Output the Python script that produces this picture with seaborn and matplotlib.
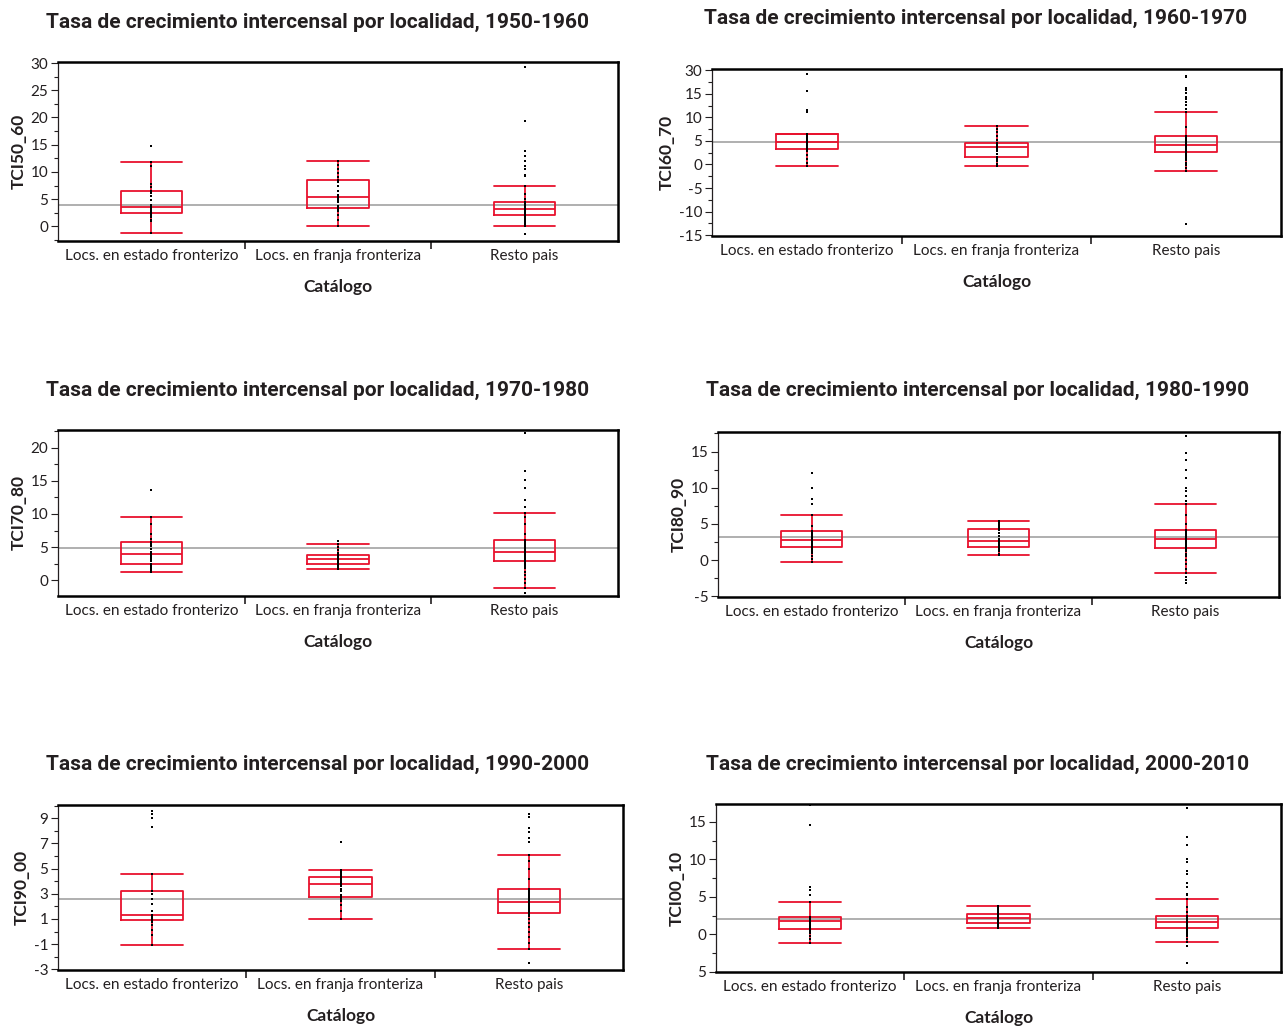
import matplotlib
matplotlib.use("Agg")
import matplotlib.pyplot as plt
import seaborn as sns
import pandas as pd
from matplotlib.ticker import FixedLocator, MultipleLocator

# ---- data -----------------------------------------------------------------
categories = ['Locs. en estado fronterizo', 'Locs. en franja fronteriza', 'Resto pais']
periods = ['1950-1960', '1960-1970', '1970-1980', '1980-1990', '1990-2000', '2000-2010']
variables = ['TCI50_60', 'TCI60_70', 'TCI70_80', 'TCI80_90', 'TCI90_00', 'TCI00_10']
grand_means = [4.0, 4.85, 4.8, 3.26, 2.58, 2.08]

tci50_60_estado = [-1.3, 0.9, 1.2, 1.8, 2.1, 2.4, 2.6, 2.9, 3.1, 3.3, 3.5, 4.0, 4.8, 5.6,
                   6.1, 6.5, 7.2, 7.8, 11.0, 11.8, 14.8]
tci50_60_franja = [0.0, 1.2, 2.0, 2.8, 3.0, 3.3, 3.8, 4.5, 4.9, 5.1, 5.3, 5.8, 6.5, 7.4,
                   8.2, 8.5, 9.0, 9.8, 10.5, 11.2, 12.0]
tci50_60_resto = [-1.4, 0.0, 0.25, 0.5, 0.75, 1.0, 1.25, 1.45, 1.65, 1.8, 1.95, 2.05,
                  2.15, 2.25, 2.35, 2.45, 2.55, 2.65, 2.7, 2.8, 2.85, 2.95, 3.0, 3.05,
                  3.1, 3.2, 3.3, 3.4, 3.5, 3.6, 3.7, 3.8, 3.95, 4.1, 4.2, 4.3,
                  4.4, 5.0, 6.0, 7.45, 9.2, 9.5, 10.5, 11.0, 12.0, 13.0, 13.8, 19.4, 29.2]

tci60_70_estado = [-0.3, 0.4, 1.2, 2.0, 2.8, 3.4, 3.7, 4.0, 4.3, 4.6, 4.8, 5.0, 5.4, 5.8,
                   6.1, 6.4, 6.5, 11.1, 11.6, 15.6, 19.2]
tci60_70_franja = [-0.4, 0.2, 0.8, 1.1, 1.4, 1.6, 2.2, 2.8, 3.2, 3.5, 3.8, 4.0, 4.2, 4.4,
                   4.5, 4.6, 5.2, 6.0, 7.0, 7.6, 8.2]
tci60_70_resto = [-12.6, -1.4, -0.8, -0.2, 0.4, 0.9, 1.3, 1.7, 2.0, 2.2, 2.4, 2.55,
                  2.7, 2.85, 3.0, 3.15, 3.3, 3.45, 3.6, 3.7, 3.8, 3.9, 4.0, 4.1,
                  4.2, 4.35, 4.5, 4.65, 4.8, 4.95, 5.1, 5.3, 5.5, 5.7, 5.85, 6.0,
                  6.1, 8.0, 11.1, 11.9, 12.6, 13.3, 14.0, 14.4, 15.1, 15.8, 16.3, 18.5, 18.8]

tci70_80_estado = [1.3, 1.6, 1.9, 2.1, 2.3, 2.5, 2.9, 3.2, 3.5, 3.8, 4.0, 4.3, 4.7, 5.1,
                   5.4, 5.7, 6.2, 7.0, 8.5, 9.5, 13.7]
tci70_80_franja = [1.7, 1.9, 2.1, 2.3, 2.4, 2.5, 2.7, 2.8, 3.0, 3.1, 3.2, 3.3, 3.5, 3.6,
                   3.7, 3.8, 4.1, 4.6, 5.0, 5.5, 5.85]
tci70_80_resto = [-1.9, -1.2, -0.5, 0.2, 0.8, 1.3, 1.8, 2.2, 2.5, 2.7,
                  2.9, 3.05, 3.2, 3.35, 3.5, 3.65, 3.8, 3.9, 4.0, 4.1,
                  4.2, 4.4, 4.6, 4.8, 5.0, 5.2, 5.4, 5.6, 5.75, 5.9,
                  6.0, 7.0, 8.5, 9.5, 10.2, 11.0, 12.1, 13.9, 15.1, 16.5, 22.2]

tci80_90_estado = [-0.3, 0.2, 0.6, 1.0, 1.3, 1.6, 1.85, 2.0, 2.2, 2.35, 2.5, 2.65, 2.75,
                   2.9, 3.1, 3.3, 3.5, 3.8, 4.0, 4.7, 6.3, 7.7, 8.5, 10.0, 12.1]
tci80_90_franja = [0.7, 0.9, 1.2, 1.4, 1.6, 1.8, 1.95, 2.1, 2.3, 2.45, 2.6, 2.9, 3.3, 3.7,
                   4.1, 4.35, 4.6, 4.9, 5.1, 5.3, 5.45]
tci80_90_resto = [-3.1, -2.8, -2.4, -1.85, -1.2, -0.6, 0.0, 0.5, 0.9, 1.2, 1.4, 1.55,
                  1.65, 1.75, 1.9, 2.0, 2.1, 2.2, 2.3, 2.4, 2.5, 2.6, 2.7, 2.8,
                  2.85, 2.95, 3.05, 3.15, 3.25, 3.35, 3.45, 3.6, 3.7, 3.85, 3.95, 4.05,
                  4.15, 5.0, 6.2, 7.8, 8.1, 8.8, 9.5, 10.0, 11.3, 12.5, 13.9, 14.8, 17.2]

tci90_00_estado = [-1.1, -0.3, 0.1, 0.5, 0.75, 0.92, 1.0, 1.1, 1.2, 1.25, 1.31, 1.6, 2.2,
                   2.6, 3.0, 3.26, 4.55, 8.3, 9.0, 9.3, 9.55]
tci90_00_franja = [1.0, 1.6, 2.1, 2.4, 2.6, 2.71, 2.9, 3.2, 3.4, 3.6, 3.75, 3.85, 4.0,
                   4.1, 4.25, 4.35, 4.5, 4.65, 4.75, 4.87, 7.08]
tci90_00_resto = [-2.5, -1.39, -0.9, -0.4, 0.0, 0.4, 0.7, 1.0, 1.2, 1.35,
                  1.44, 1.55, 1.65, 1.75, 1.85, 1.95, 2.05, 2.15, 2.22, 2.28,
                  2.32, 2.45, 2.6, 2.75, 2.9, 3.0, 3.1, 3.2, 3.3, 3.38,
                  3.42, 4.2, 5.0, 5.6, 6.1, 7.15, 7.4, 7.9, 8.25, 9.1, 9.3]

tci00_10_estado = [-1.15, -0.6, -0.2, 0.1, 0.3, 0.5, 0.66, 0.8, 1.0, 1.2, 1.4, 1.6, 1.77,
                   1.85, 1.95, 2.05, 2.15, 2.2, 2.26, 4.35, 5.3, 5.9, 6.3, 14.6, 17.2]
tci00_10_franja = [0.84, 1.0, 1.15, 1.3, 1.45, 1.55, 1.7, 1.8, 1.9, 2.0, 2.12, 2.2, 2.3,
                   2.4, 2.55, 2.65, 2.85, 3.1, 3.35, 3.55, 3.76]
tci00_10_resto = [-3.8, -1.6, -1.0, -0.6, -0.3, 0.0, 0.2, 0.35, 0.5, 0.6, 0.68, 0.75, 0.8, 0.85,
                  0.88, 0.95, 1.0, 1.06, 1.12, 1.18, 1.24, 1.3, 1.36, 1.42, 1.48, 1.53, 1.57, 1.61,
                  1.64, 1.7, 1.76, 1.82, 1.88, 1.94, 2.0, 2.06, 2.12, 2.18, 2.24, 2.3, 2.36, 2.4,
                  2.43, 3.0, 3.6, 4.65, 5.2, 5.4, 6.3, 6.9, 8.1, 8.5, 9.6, 10.1, 11.9, 13.0, 16.9]

groups = [
    (tci50_60_estado, tci50_60_franja, tci50_60_resto),
    (tci60_70_estado, tci60_70_franja, tci60_70_resto),
    (tci70_80_estado, tci70_80_franja, tci70_80_resto),
    (tci80_90_estado, tci80_90_franja, tci80_90_resto),
    (tci90_00_estado, tci90_00_franja, tci90_00_resto),
    (tci00_10_estado, tci00_10_franja, tci00_10_resto),
]

y_ticks = [
    [0, 5, 10, 15, 20, 25, 30],
    [-15, -10, -5, 0, 5, 10, 15, 20],
    [0, 5, 10, 15, 20],
    [-5, 0, 5, 10, 15],
    [-3, -1, 1, 3, 5, 7, 9],
    [-5, 0, 5, 10, 15],
]
y_tick_labels = [
    ['0', '5', '10', '15', '20', '25', '30'],
    ['-15', '-10', '-5', '0', '5', '10', '15', '30'],
    ['0', '5', '10', '15', '20'],
    ['-5', '0', '5', '10', '15'],
    ['-3', '-1', '1', '3', '5', '7', '9'],
    ['5', '0', '5', '10', '15'],
]
y_minor = [2.5, 2.5, 2.5, 2.5, 1, 2.5]
y_limits = [(-2.7, 30.2), (-15.2, 20.3), (-2.4, 22.7), (-5.1, 17.7), (-3.05, 10.05), (-5.05, 17.4)]

# ---- layout (pixels of the 1284x1026 canvas) -----------------------------
W, H = 1284, 1026
panel_boxes = [  # left, top, right, bottom of each plot frame
    (58, 62, 618, 241), (712, 69, 1281, 236),
    (58, 430, 618, 596), (718, 432, 1279, 597),
    (58, 805, 623, 970), (716, 804, 1281, 972),
]
title_pos = [(318, 22), (976, 18), (318, 390), (978, 390), (318, 764), (978, 764)]

RED = '#e8112d'
TEXT = '#231f20'
TITLE_FONT = ['Roboto', 'DejaVu Sans']
BODY_FONT = ['Lato', 'DejaVu Sans']

sns.set_theme(style='white')
plt.rcParams['font.family'] = BODY_FONT

fig = plt.figure(figsize=(W / 100, H / 100), dpi=100)
fig.patch.set_facecolor('white')

for i in range(6):
    l, t, r, b = panel_boxes[i]
    ax = fig.add_axes([l / W, 1 - b / H, (r - l) / W, (b - t) / H])

    var = variables[i]
    cat_col, val_col = [], []
    for cat, vals in zip(categories, groups[i]):
        cat_col += [cat] * len(vals)
        val_col += vals
    df = pd.DataFrame({'Catálogo': cat_col, var: val_col})

    ax.axhline(grand_means[i], color='#9a9a9a', linewidth=1.1, zorder=1)

    sns.boxplot(data=df, x='Catálogo', y=var, order=categories,
                fill=False, color=RED, width=0.33, showfliers=False,
                linewidth=1.3, capwidths=0.33, ax=ax, zorder=2)

    sns.stripplot(data=df, x='Catálogo', y=var, order=categories,
                  jitter=False, color='black', size=1.6, marker='s',
                  linewidth=0, ax=ax, zorder=3)

    ax.set_xlim(-0.5, 2.5)
    ax.set_ylim(*y_limits[i])

    ax.yaxis.set_major_locator(FixedLocator(y_ticks[i]))
    ax.set_yticklabels(y_tick_labels[i])
    ax.yaxis.set_minor_locator(MultipleLocator(y_minor[i]))
    ax.tick_params(axis='y', which='major', direction='out', length=5, width=0.8,
                   color=TEXT, labelsize=11, labelcolor=TEXT, pad=2, left=True)
    ax.tick_params(axis='y', which='minor', direction='out', length=3, width=0.8,
                   color=TEXT, left=True)

    ax.xaxis.set_minor_locator(FixedLocator([0.5, 1.5]))
    ax.tick_params(axis='x', which='major', length=0, labelsize=11,
                   labelcolor=TEXT, pad=6)
    ax.tick_params(axis='x', which='minor', direction='out', length=6, width=1.2,
                   color=TEXT, bottom=True)

    for side in ['top', 'right', 'bottom']:
        ax.spines[side].set_linewidth(1.8)
        ax.spines[side].set_color('black')
    ax.spines['left'].set_linewidth(0.9)
    ax.spines['left'].set_color(TEXT)

    ax.set_xlabel('Catálogo', fontsize=12.5, fontweight='bold', color=TEXT, labelpad=11)
    ax.set_ylabel(var, fontsize=12.5, fontweight='bold', color=TEXT, labelpad=3)
    ax.grid(False)

    tx, ty = title_pos[i]
    fig.text(tx / W, 1 - ty / H, 'Tasa de crecimiento intercensal por localidad, ' + periods[i],
             ha='center', va='center', fontsize=15, fontweight='bold',
             family=TITLE_FONT, color=TEXT)

fig.savefig('out.png', dpi=100, facecolor='white')
